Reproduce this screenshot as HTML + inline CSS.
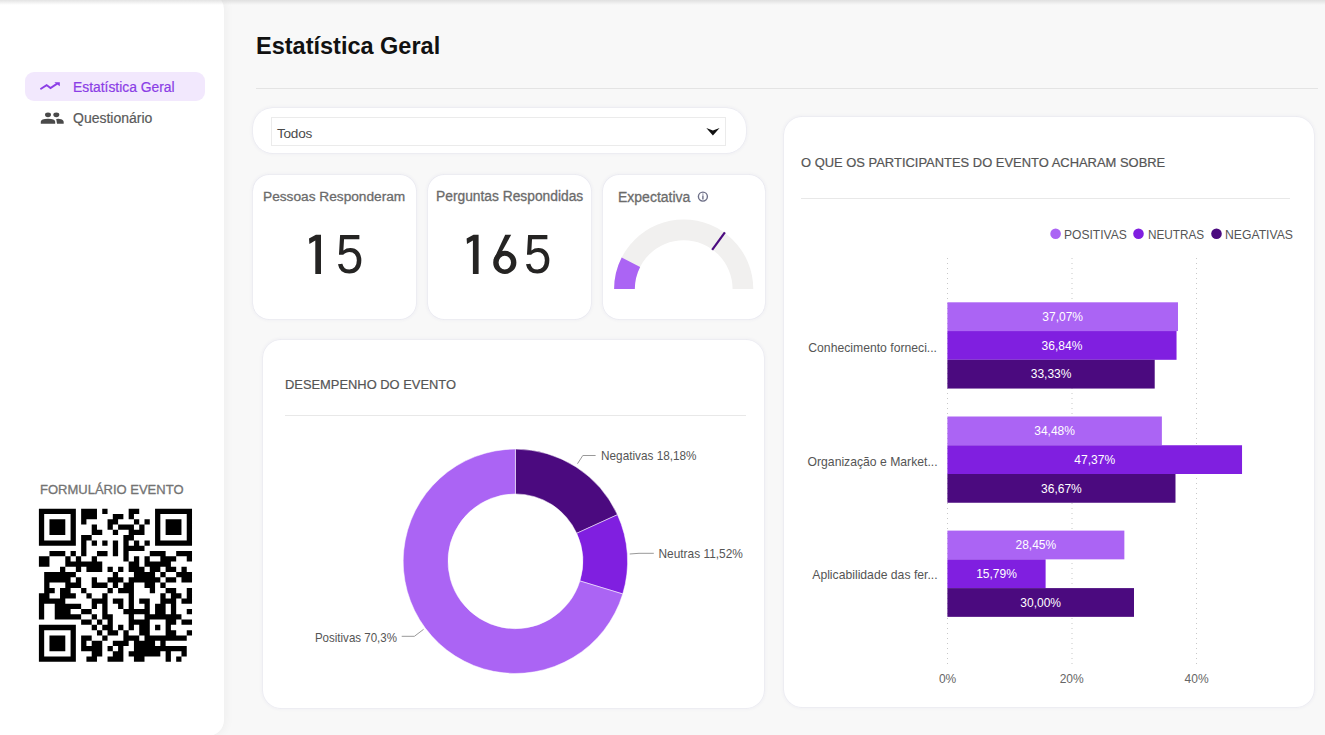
<!DOCTYPE html>
<html><head><meta charset="utf-8">
<style>
*{margin:0;padding:0;box-sizing:border-box}
html,body{width:1325px;height:735px;overflow:hidden;background:#f8f8f8;font-family:"Liberation Sans",sans-serif}
.abs{position:absolute}
.sidebar{position:absolute;left:-20px;top:-7px;width:244px;height:743px;background:#fff;border-radius:16px;box-shadow:2px 0 10px rgba(0,0,0,0.045)}
.topshade{position:absolute;left:0;top:0;width:1325px;height:5px;background:linear-gradient(rgba(200,200,200,0.5),rgba(220,220,220,0))}
.nav-pill{position:absolute;left:25px;top:72px;width:180px;height:29px;background:#f2e8fd;border-radius:9px}
.nav-t{position:absolute;font-size:14px;white-space:nowrap}
.card{position:absolute;background:#fff;border-radius:16px;box-shadow:0 0 0 0.5px rgba(110,110,200,0.06),0 0 4px rgba(60,60,130,0.09)}
.t{position:absolute;white-space:nowrap}
.med{-webkit-text-stroke:0.3px currentColor}
.med2{-webkit-text-stroke:0.2px currentColor}
</style></head>
<body>
<div class="sidebar"></div>
<div class="nav-pill"></div>
<!-- trend icon -->
<svg class="abs" style="left:0;top:0" width="230" height="140" viewBox="0 0 230 140">
  <path d="M41 88.7 L46.6 85.1 L50.5 88.1 L56.8 83.9" fill="none" stroke="#8b3de6" stroke-width="1.9" stroke-linecap="round" stroke-linejoin="miter"/>
  <path d="M54.3 82.2 L59.8 82.2 L59.8 86.2 Z" fill="#8b3de6"/>
  <ellipse cx="48" cy="114.8" rx="3" ry="2.4" fill="#4a4a4a"/>
  <ellipse cx="56.3" cy="114.8" rx="3" ry="2.4" fill="#4a4a4a"/>
  <path d="M40.8 123.8 V121.8 Q40.8 118.7 48 118.7 Q55.2 118.7 55.2 121.8 V123.8 Z" fill="#4a4a4a"/>
  <path d="M57 123.8 L56.2 119 Q58 118.8 59.5 118.9 Q63.7 119.3 63.7 122 V123.8 Z" fill="#4a4a4a"/>
</svg>
<div class="nav-t med2" style="left:73px;top:79px;color:#8b3de6;font-size:13.85px">Estatística Geral</div>
<div class="nav-t med2" style="left:73px;top:110px;color:#5a5a5a">Questionário</div>

<div class="t med" style="left:40px;top:482px;font-size:13px;color:#737373">FORMULÁRIO EVENTO</div>
<svg class="abs" style="left:0;top:0" width="1325" height="735"><g transform="translate(38.9 508.7) scale(5.28)"><path d="M0 0h7v1h-7zM8 0h3v1h-3zM12 0h1v1h-1zM17 0h2v1h-2zM22 0h7v1h-7zM0 1h1v1h-1zM6 1h1v1h-1zM8 1h3v1h-3zM14 1h2v1h-2zM17 1h1v1h-1zM22 1h1v1h-1zM28 1h1v1h-1zM0 2h1v1h-1zM2 2h3v1h-3zM6 2h1v1h-1zM8 2h1v1h-1zM13 2h2v1h-2zM18 2h1v1h-1zM20 2h1v1h-1zM22 2h1v1h-1zM24 2h3v1h-3zM28 2h1v1h-1zM0 3h1v1h-1zM2 3h3v1h-3zM6 3h1v1h-1zM10 3h1v1h-1zM13 3h1v1h-1zM15 3h3v1h-3zM19 3h1v1h-1zM22 3h1v1h-1zM24 3h3v1h-3zM28 3h1v1h-1zM0 4h1v1h-1zM2 4h3v1h-3zM6 4h1v1h-1zM10 4h2v1h-2zM14 4h1v1h-1zM17 4h3v1h-3zM22 4h1v1h-1zM24 4h3v1h-3zM28 4h1v1h-1zM0 5h1v1h-1zM6 5h1v1h-1zM8 5h2v1h-2zM16 5h2v1h-2zM22 5h1v1h-1zM28 5h1v1h-1zM0 6h7v1h-7zM8 6h1v1h-1zM10 6h1v1h-1zM12 6h1v1h-1zM14 6h1v1h-1zM16 6h1v1h-1zM18 6h1v1h-1zM20 6h1v1h-1zM22 6h7v1h-7zM8 7h1v1h-1zM14 7h1v1h-1zM16 7h4v1h-4zM2 8h3v1h-3zM6 8h1v1h-1zM8 8h1v1h-1zM11 8h2v1h-2zM14 8h1v1h-1zM16 8h1v1h-1zM21 8h3v1h-3zM26 8h3v1h-3zM0 9h2v1h-2zM5 9h1v1h-1zM7 9h1v1h-1zM10 9h1v1h-1zM16 9h1v1h-1zM18 9h1v1h-1zM20 9h1v1h-1zM23 9h3v1h-3zM28 9h1v1h-1zM0 10h2v1h-2zM5 10h7v1h-7zM17 10h2v1h-2zM20 10h5v1h-5zM4 11h1v1h-1zM7 11h1v1h-1zM9 11h3v1h-3zM13 11h1v1h-1zM15 11h1v1h-1zM17 11h3v1h-3zM21 11h2v1h-2zM24 11h2v1h-2zM27 11h1v1h-1zM1 12h6v1h-6zM14 12h1v1h-1zM18 12h4v1h-4zM23 12h1v1h-1zM26 12h3v1h-3zM1 13h5v1h-5zM7 13h1v1h-1zM10 13h1v1h-1zM13 13h3v1h-3zM17 13h6v1h-6zM24 13h2v1h-2zM27 13h2v1h-2zM1 14h1v1h-1zM5 14h3v1h-3zM10 14h3v1h-3zM14 14h1v1h-1zM16 14h2v1h-2zM20 14h2v1h-2zM23 14h1v1h-1zM1 15h2v1h-2zM4 15h2v1h-2zM8 15h1v1h-1zM13 15h1v1h-1zM15 15h3v1h-3zM21 15h1v1h-1zM24 15h2v1h-2zM28 15h1v1h-1zM0 16h2v1h-2zM4 16h3v1h-3zM9 16h1v1h-1zM12 16h1v1h-1zM17 16h1v1h-1zM23 16h1v1h-1zM25 16h2v1h-2zM28 16h1v1h-1zM0 17h5v1h-5zM10 17h3v1h-3zM14 17h2v1h-2zM17 17h1v1h-1zM19 17h2v1h-2zM23 17h3v1h-3zM27 17h2v1h-2zM0 18h1v1h-1zM3 18h5v1h-5zM10 18h1v1h-1zM12 18h1v1h-1zM15 18h1v1h-1zM17 18h1v1h-1zM20 18h1v1h-1zM22 18h2v1h-2zM25 18h1v1h-1zM0 19h1v1h-1zM3 19h3v1h-3zM8 19h2v1h-2zM12 19h1v1h-1zM16 19h5v1h-5zM22 19h2v1h-2zM25 19h1v1h-1zM28 19h1v1h-1zM0 20h1v1h-1zM3 20h5v1h-5zM10 20h1v1h-1zM12 20h2v1h-2zM17 20h1v1h-1zM20 20h7v1h-7zM8 21h2v1h-2zM11 21h1v1h-1zM13 21h1v1h-1zM17 21h4v1h-4zM24 21h2v1h-2zM27 21h2v1h-2zM0 22h7v1h-7zM10 22h1v1h-1zM12 22h2v1h-2zM15 22h1v1h-1zM17 22h1v1h-1zM19 22h2v1h-2zM22 22h1v1h-1zM24 22h1v1h-1zM0 23h1v1h-1zM6 23h1v1h-1zM11 23h1v1h-1zM13 23h2v1h-2zM16 23h1v1h-1zM19 23h2v1h-2zM24 23h2v1h-2zM28 23h1v1h-1zM0 24h1v1h-1zM2 24h3v1h-3zM6 24h1v1h-1zM8 24h2v1h-2zM12 24h1v1h-1zM16 24h3v1h-3zM20 24h8v1h-8zM0 25h1v1h-1zM2 25h3v1h-3zM6 25h1v1h-1zM8 25h1v1h-1zM10 25h2v1h-2zM14 25h3v1h-3zM18 25h4v1h-4zM23 25h1v1h-1zM0 26h1v1h-1zM2 26h3v1h-3zM6 26h1v1h-1zM8 26h4v1h-4zM13 26h1v1h-1zM15 26h1v1h-1zM18 26h10v1h-10zM0 27h1v1h-1zM6 27h1v1h-1zM10 27h2v1h-2zM14 27h2v1h-2zM17 27h6v1h-6zM24 27h1v1h-1zM27 27h1v1h-1zM0 28h7v1h-7zM9 28h2v1h-2zM13 28h3v1h-3zM18 28h2v1h-2zM24 28h1v1h-1zM26 28h1v1h-1z" fill="#000"/></g></svg>

<div class="topshade"></div>

<!-- header -->
<div class="t" style="left:256px;top:32.5px;font-size:23.5px;font-weight:bold;color:#111">Estatística Geral</div>
<div class="abs" style="left:256px;top:88px;width:1062px;height:1px;background:#e4e4e4"></div>

<!-- slicer -->
<div class="card" style="left:253px;top:107.5px;width:493px;height:45.5px;border-radius:20px"></div>
<div class="abs" style="left:271px;top:117px;width:455px;height:29px;border:1px solid #ebebeb;background:#fff"></div>
<div class="t" style="left:277px;top:126.3px;font-size:13.6px;letter-spacing:-0.25px;color:#4a4a4a">Todos</div>

<!-- KPI cards -->
<div class="card" style="left:253px;top:174.5px;width:162.5px;height:144.5px"></div>
<div class="card" style="left:428px;top:174.5px;width:162.5px;height:144.5px"></div>
<div class="card" style="left:602.5px;top:174.5px;width:162px;height:144.5px"></div>
<div class="t med" style="left:263px;top:189px;font-size:13.7px;color:#6b6b6b">Pessoas Responderam</div>
<div class="t med" style="left:436px;top:189px;font-size:13.8px;color:#6b6b6b">Perguntas Respondidas</div>
<div class="t med" style="left:618px;top:189px;font-size:14px;color:#6b6b6b">Expectativa</div>
<svg class="abs" style="left:0;top:0" width="600" height="300"><path d="M321 234.8V274H315.3V240.5L309.4 244L309 238.5L315.9 234.8Z" fill="#252423"/><path d="M478.6 234.8V274H472.9V240.5L467 244L466.6 238.5L473.5 234.8Z" fill="#252423"/></svg>
<div class="t" id="d15" style="left:336px;top:222px;font-size:56px;line-height:64px;color:#252423;transform:scaleX(0.88);transform-origin:0 0">5</div>
<svg class="abs" style="left:0;top:0" width="600" height="300"><path fill-rule="evenodd" fill="#252423" d="M493.2 262.4A11.6 11.6 0 1 0 516.4 262.4A11.6 11.6 0 1 0 493.2 262.4ZM498.6 262.6A6.2 6.9 0 1 0 511 262.6A6.2 6.9 0 1 0 498.6 262.6Z"/><path fill="#252423" d="M505.2 234.8H511.2L498.6 257.5L493.6 259.8Z"/></svg>
<div class="t" id="d5" style="left:524px;top:222px;font-size:56px;line-height:64px;color:#252423;transform:scaleX(0.88);transform-origin:0 0">5</div>

<!-- donut card -->
<div class="card" style="left:263px;top:340px;width:501px;height:367.5px;border-radius:18px"></div>
<div class="t med2" style="left:285px;top:377px;font-size:12.9px;color:#555">DESEMPENHO DO EVENTO</div>
<div class="abs" style="left:285px;top:415px;width:461px;height:1px;background:#e8e8e8"></div>

<!-- bar card -->
<div class="card" style="left:784px;top:117px;width:530px;height:590px;border-radius:18px"></div>
<div class="t med2" style="left:801px;top:155px;font-size:12.95px;color:#555">O QUE OS PARTICIPANTES DO EVENTO ACHARAM SOBRE</div>
<div class="abs" style="left:801px;top:198px;width:489px;height:1px;background:#e8e8e8"></div>

<svg class="abs" style="left:0;top:0" width="1325" height="735" viewBox="0 0 1325 735">
<style>
.bl{font-family:"Liberation Sans",sans-serif;font-size:12px;fill:#fff;text-anchor:middle}
.ax{font-family:"Liberation Sans",sans-serif;font-size:12px;fill:#666;text-anchor:middle}
.cat{font-family:"Liberation Sans",sans-serif;font-size:12.2px;fill:#555;text-anchor:end}
.lg{font-family:"Liberation Sans",sans-serif;font-size:13.3px;fill:#555}
.dl{font-family:"Liberation Sans",sans-serif;font-size:12.9px;fill:#555}
</style>
<!-- slicer arrow -->
<path d="M706.3 128.1 L712.9 130.4 L719.6 128.1 L712.9 135.4 Z" fill="#111"/>
<!-- info icon -->
<circle cx="702.9" cy="196.6" r="4.5" fill="none" stroke="#6e7088" stroke-width="1.4"/>
<rect x="702.2" y="195.4" width="1.4" height="4.1" fill="#6e7088"/>
<rect x="702.2" y="193.5" width="1.4" height="1.2" fill="#8e90a4"/>
<!-- gauge --><g transform="translate(0 0.5)">
<path d="M614.10 288.60A69.6 69.6 0 0 1 753.30 288.60L732.60 288.60A48.9 48.9 0 0 0 634.80 288.60Z" fill="#f1f0ef"/>
<path d="M614.10 288.60A69.6 69.6 0 0 1 621.69 257.00L640.13 266.40A48.9 48.9 0 0 0 634.80 288.60Z" fill="#ab64f4"/>
<path d="M712.15 249.44L724.90 231.89" stroke="#4b0a7f" stroke-width="2.2"/>
</g>
<!-- donut -->
<g stroke="rgba(255,255,255,0.85)" stroke-width="0.6">
<path d="M515.40 449.10A112.2 112.2 0 0 1 617.46 514.68L576.71 533.29A67.4 67.4 0 0 0 515.40 493.90Z" fill="#4b0a7f"/>
<path d="M617.46 514.68A112.2 112.2 0 0 1 622.74 593.95L579.88 580.92A67.4 67.4 0 0 0 576.71 533.29Z" fill="#801fe0"/>
<path d="M622.74 593.95A112.2 112.2 0 1 1 515.40 449.10L515.40 493.90A67.4 67.4 0 1 0 579.88 580.92Z" fill="#ab64f4"/>
</g>
<g fill="none" stroke="#999" stroke-width="1">
<path d="M577.5 463.7 L582.8 455.5 L595.6 455.5"/>
<path d="M629.7 554 L639 553.3 L653.8 553.3"/>
<path d="M401.7 636.3 L414.4 636.3 L423.6 629.3"/>
</g>
<text x="601.1" y="459.7" class="dl" textLength="95.4" lengthAdjust="spacingAndGlyphs">Negativas 18,18%</text>
<text x="658.5" y="557.6" class="dl" textLength="84.4" lengthAdjust="spacingAndGlyphs">Neutras 11,52%</text>
<text x="314.9" y="641.6" class="dl" textLength="82.1" lengthAdjust="spacingAndGlyphs">Positivas 70,3%</text>
<!-- legend -->
<circle cx="1055.6" cy="233.7" r="5.3" fill="#ab64f4"/>
<text x="1064" y="238.8" class="lg" textLength="62.8" lengthAdjust="spacingAndGlyphs">POSITIVAS</text>
<circle cx="1138.5" cy="233.7" r="5.3" fill="#801fe0"/>
<text x="1148" y="238.8" class="lg" textLength="56.2" lengthAdjust="spacingAndGlyphs">NEUTRAS</text>
<circle cx="1216.5" cy="233.7" r="5.3" fill="#4b0a7f"/>
<text x="1225" y="238.8" class="lg" textLength="68" lengthAdjust="spacingAndGlyphs">NEGATIVAS</text>
<!-- gridlines -->
<g stroke="#c8c8c8" stroke-width="1" stroke-dasharray="1 4">
<line x1="947.5" y1="258" x2="947.5" y2="668"/>
<line x1="1072" y1="258" x2="1072" y2="668"/>
<line x1="1196.5" y1="258" x2="1196.5" y2="668"/>
</g>
<text x="947.6" y="683" class="ax">0%</text>
<text x="1071.7" y="683" class="ax">20%</text>
<text x="1196.6" y="683" class="ax">40%</text>
<text x="937" y="352" class="cat">Conhecimento forneci...</text>
<text x="937.6" y="466" class="cat">Organização e Market...</text>
<text x="937.6" y="579.4" class="cat">Aplicabilidade das fer...</text>
<!-- bars -->
<rect x="947.4" y="302.30" width="230.58" height="28.75" fill="#ab64f4"/>
<text x="1062.69" y="320.88" class="bl">37,07%</text>
<rect x="947.4" y="331.05" width="229.14" height="28.75" fill="#801fe0"/>
<text x="1061.97" y="349.62" class="bl">36,84%</text>
<rect x="947.4" y="359.80" width="207.31" height="28.75" fill="#4b0a7f"/>
<text x="1051.06" y="378.38" class="bl">33,33%</text>
<rect x="947.4" y="416.50" width="214.47" height="28.75" fill="#ab64f4"/>
<text x="1054.63" y="435.07" class="bl">34,48%</text>
<rect x="947.4" y="445.25" width="294.64" height="28.75" fill="#801fe0"/>
<text x="1094.72" y="463.82" class="bl">47,37%</text>
<rect x="947.4" y="474.00" width="228.09" height="28.75" fill="#4b0a7f"/>
<text x="1061.44" y="492.57" class="bl">36,67%</text>
<rect x="947.4" y="530.60" width="176.96" height="28.75" fill="#ab64f4"/>
<text x="1035.88" y="549.18" class="bl">28,45%</text>
<rect x="947.4" y="559.35" width="98.21" height="28.75" fill="#801fe0"/>
<text x="996.51" y="577.93" class="bl">15,79%</text>
<rect x="947.4" y="588.10" width="186.60" height="28.75" fill="#4b0a7f"/>
<text x="1040.70" y="606.68" class="bl">30,00%</text>
</svg>
</body></html>
